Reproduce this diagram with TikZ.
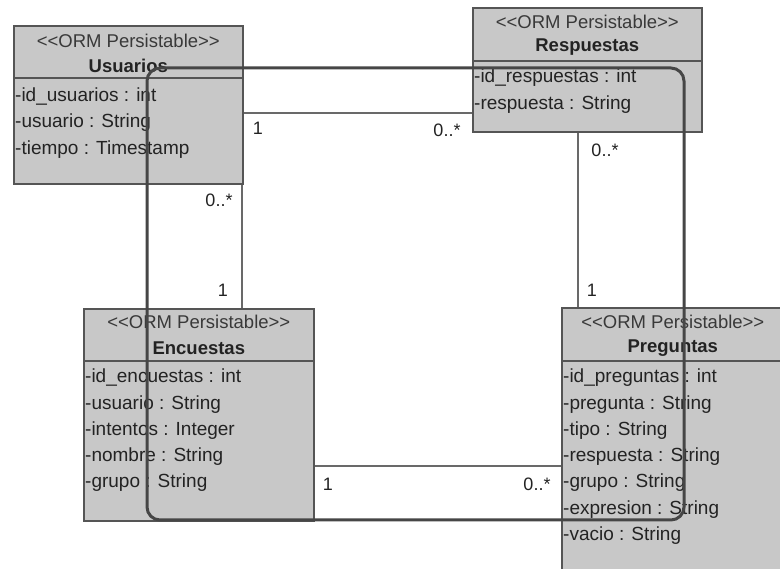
\documentclass[tikz,border=0pt]{standalone}
\usepackage{fontspec}
\setmainfont{Liberation Sans}
\definecolor{boxfill}{RGB}{200,200,200}
\definecolor{boxline}{RGB}{85,85,85}
\definecolor{connline}{RGB}{105,105,105}
\definecolor{ringline}{RGB}{70,70,70}
\definecolor{txt}{RGB}{35,35,35}
\begin{document}
\begin{tikzpicture}[x=1pt,y=-1pt,
  cls/.style={draw=boxline, fill=boxfill, line width=1.6pt, inner sep=0pt, anchor=north west},
  divline/.style={draw=boxline, line width=1.6pt},
  stereo/.style={inner sep=0pt, text=txt!90, font=\fontsize{18.5}{20}\selectfont},
  cname/.style={inner sep=0pt, text=txt, font=\bfseries\fontsize{18.5}{20}\selectfont},
  attr/.style={anchor=west, inner sep=0pt, text=txt, font=\fontsize{19}{21}\selectfont},
  mult/.style={inner sep=0pt, text=txt, font=\fontsize{18}{20}\selectfont},
  conn/.style={draw=connline, line width=1.5pt},
  ring/.style={draw=ringline, line width=3pt, rounded corners=13pt}]
\useasboundingbox[fill=white] (0,0) rectangle (780,569);
\clip (0,0) rectangle (780,569);

% ---- class Usuarios
\node[cls, minimum width=229pt, minimum height=158pt] (usu) at (13,25) {};
\draw[divline] (usu.west |- 0,78) -- (usu.east |- 0,78);
\node[stereo] (usuS) at (usu.north |- 0,41) {<{}<ORM Persistable>{}>};
\node[cname] (usuN) at (usu.north |- 0,66) {Usuarios};
\node[attr] (usuA1) at (15,97) {-id\_usuarios : int};
\node[attr] (usuA2) at (15,123) {-usuario : String};
\node[attr] (usuA3) at (15,150) {-tiempo : Timestamp};

% ---- class Respuestas
\node[cls, minimum width=229pt, minimum height=124pt] (resp) at (472,7) {};
\draw[divline] (resp.west |- 0,61) -- (resp.east |- 0,61);
\node[stereo] (respS) at (resp.north |- 0,22) {<{}<ORM Persistable>{}>};
\node[cname] (respN) at (resp.north |- 0,47) {Respuestas};
\node[attr] (respA1) at (474,78) {-id\_respuestas : int};
\node[attr] (respA2) at (474,105) {-respuesta : String};

% ---- class Encuestas
\node[cls, minimum width=230pt, minimum height=212pt] (enc) at (83,308) {};
\draw[divline] (enc.west |- 0,361) -- (enc.east |- 0,361);
\node[stereo] (encS) at (enc.north |- 0,322) {<{}<ORM Persistable>{}>};
\node[cname] (encN) at (enc.north |- 0,348) {Encuestas};
\node[attr] (encA1) at (85,378) {-id\_encuestas : int};
\node[attr] (encA2) at (85,405) {-usuario : String};
\node[attr] (encA3) at (85,431) {-intentos : Integer};
\node[attr] (encA4) at (85,457) {-nombre : String};
\node[attr] (encA5) at (85,483) {-grupo : String};

% ---- class Preguntas (runs past the right and bottom edges)
\node[cls, minimum width=222pt, minimum height=300pt] (preg) at (561,307) {};
\draw[divline] (preg.west |- 0,361) -- (preg.east |- 0,361);
\node[stereo] (pregS) at (preg.north |- 0,322) {<{}<ORM Persistable>{}>};
\node[cname] (pregN) at (preg.north |- 0,348) {Preguntas};
\node[attr] (pregA1) at (563,378) {-id\_preguntas : int};
\node[attr] (pregA2) at (563,405) {-pregunta : String};
\node[attr] (pregA3) at (563,431) {-tipo : String};
\node[attr] (pregA4) at (563,457) {-respuesta : String};
\node[attr] (pregA5) at (563,483) {-grupo : String};
\node[attr] (pregA6) at (563,510) {-expresion : String};
\node[attr] (pregA7) at (563,536) {-vacio : String};

% ---- associations
\draw[conn] (usu.east |- 0,113) -- (resp.west |- 0,113);
\draw[conn] (usu.south -| 242,0) -- (enc.north -| 242,0);
\draw[conn] (resp.south -| 578,0) -- (preg.north -| 578,0);
\draw[conn] (enc.east |- 0,466) -- (preg.west |- 0,466);

% ---- multiplicities
\node[mult] (m1) at (258,128) {1};
\node[mult] (m2) at (447,130) {0..*};
\node[mult] (m3) at (219,200) {0..*};
\node[mult] (m4) at (223,290) {1};
\node[mult] (m5) at (605,150) {0..*};
\node[mult] (m6) at (592,290) {1};
\node[mult] (m7) at (328,484) {1};
\node[mult] (m8) at (537,484) {0..*};

% ---- highlight frame drawn over the diagram
\draw[ring] (147,68) rectangle (684,520);
\end{tikzpicture}
\end{document}
